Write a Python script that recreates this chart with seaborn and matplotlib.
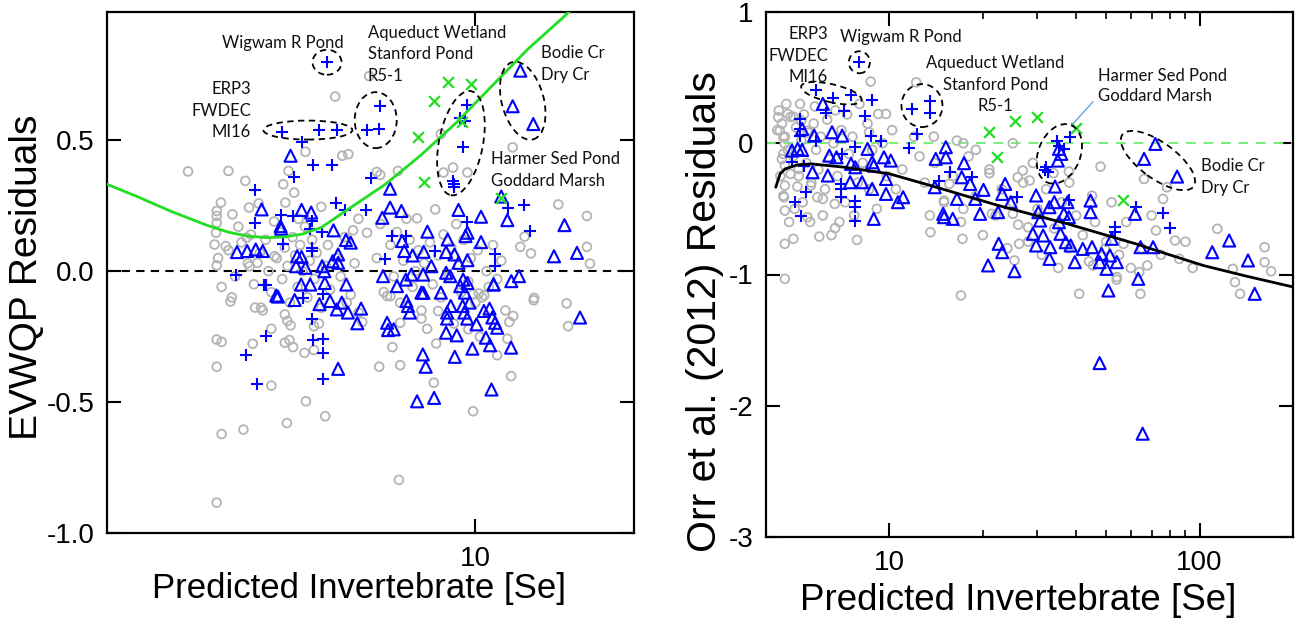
import numpy as np
import pandas as pd
import matplotlib
matplotlib.use("Agg")
import matplotlib.pyplot as plt
import matplotlib.transforms as mtransforms
from matplotlib.patches import Ellipse
from matplotlib.ticker import FixedLocator, NullLocator
import seaborn as sns

# ---------------- LEFT PANEL DATA (EVWQP residuals) ----------------
left_gray_x = [6.29, 5.42, 2.85, 3.40, 3.66, 4.76, 5.59, 5.74, 4.42, 4.32, 4.53, 7.13, 6.50, 6.60, 8.60, 11.77, 9.07, 9.66, 8.70,
               14.37, 16.28, 12.4, 12.17, 12.75, 16.28, 16.5, 12.93, 7.75, 8.39, 6.23, 5.86, 5.10, 4.36, 3.29, 3.23, 3.23, 3.23,
               3.22, 3.20, 3.46, 3.72, 3.88, 3.68, 3.36, 3.23, 3.73, 3.86, 4.16,
               3.23, 7.16, 3.30, 3.63, 4.39, 5.19, 4.77, 9.9, 4.10, 3.23, 6.57, 7.20, 8.34, 11.69, 11.0, 6.96, 8.43, 3.23, 3.30,
               3.78, 4.10, 4.35, 4.44, 4.51, 4.74, 4.94, 4.46, 4.94, 3.43, 3.82, 3.92, 4.35, 12.9, 14.9, 15.0, 11.8, 11.6, 11.5,
               6.1, 7.2, 7.9, 8.5, 9.9, 10.15, 10.4, 9.7, 6.8, 6.9, 5.7, 6.0,
               3.25, 3.4, 3.5, 3.6, 3.7, 3.8, 3.9, 4.0, 4.05, 4.1, 4.2, 4.25, 4.3, 4.35, 4.4, 4.45, 4.5, 4.55, 4.6, 4.65, 4.7,
               4.75, 4.8, 4.85, 4.9, 4.95, 5.0, 5.1, 5.2, 5.25, 5.3, 5.45, 5.55, 5.65, 5.8, 5.9, 6.0, 3.3, 3.55, 3.95, 4.15, 4.4,
               4.62, 5.05, 3.45, 3.75,
               6.5, 6.7, 6.9, 7.0, 7.1, 7.2, 7.3, 7.5, 7.6, 7.7, 7.8, 7.9, 8.0, 8.2, 8.3, 8.5, 8.6, 8.7, 8.9, 9.0, 9.1, 9.3, 9.4,
               9.5, 9.7, 9.8, 10.0, 10.1, 10.3, 10.5, 10.6, 10.8, 11.0, 11.2, 11.4, 6.6, 7.4, 8.1, 9.2, 10.2]
left_gray_y = [0.745, 0.667, 0.381, 0.383, 0.345, 0.456, 0.441, 0.447, 0.383, 0.332, 0.300, 0.383, 0.379, 0.368, 0.524, 0.473, 0.396,
               0.377, 0.377, 0.255, 0.211, 0.132, 0.093, 0.068, 0.093, 0.029, -0.102, 0.202, 0.236, 0.147, 0.156, 0.246, 0.262,
               0.262, 0.230, 0.211, 0.185, 0.147, 0.102, 0.217, 0.243, 0.259, 0.128, 0.096, 0.022, 0.019, 0.032, 0.057,
               -0.884, -0.797, -0.622, -0.605, -0.580, -0.554, -0.497, -0.535, -0.437, -0.365, -0.365, -0.359, -0.426, -0.401,
               -0.321, -0.290, -0.276, -0.261, -0.270, -0.277, -0.220, -0.273, -0.263, -0.290, -0.312, -0.301, -0.207, -0.210,
               -0.116, -0.139, -0.139, -0.165, -0.111, -0.123, -0.210, -0.171, -0.194, -0.258, -0.194, -0.197, -0.181, -0.152,
               -0.088, -0.085, -0.092, -0.222, -0.095, -0.095, -0.12, -0.158,
               0.05, 0.08, -0.02, 0.11, 0.03, -0.05, 0.07, 0.12, 0.0, -0.08, 0.05, 0.15, -0.03, 0.09, 0.02, -0.12, 0.13, 0.06,
               -0.06, 0.10, 0.0, 0.17, -0.10, 0.04, 0.12, -0.03, 0.07, -0.14, 0.02, 0.10, -0.07, 0.05, -0.02, 0.13, -0.09, 0.03,
               0.20, -0.06, 0.17, -0.15, 0.19, -0.19, 0.20, -0.20, -0.10, 0.14,
               0.05, -0.08, 0.10, -0.02, 0.15, -0.12, 0.04, 0.12, -0.06, 0.0, 0.08, -0.15, 0.03, 0.11, -0.05, 0.06, -0.10, 0.14,
               -0.02, 0.09, -0.20, 0.02, -0.08, 0.12, -0.04, 0.05, -0.12, 0.08, -0.10, 0.0, -0.06, 0.10, -0.03, 0.04, -0.15,
               0.18, 0.20, -0.22, 0.18, -0.25]

left_tri_x = [12.17, 11.77, 12.88, 4.46, 6.89, 11.2, 3.93, 4.68, 4.88, 6.89, 7.24, 6.66, 9.29, 10.25, 11.5, 14.76, 4.27, 4.28,
              5.38, 5.68, 5.80, 8.11, 9.66, 9.58, 8.86, 10.25, 7.26, 3.53, 3.69, 3.83, 3.95, 4.59, 4.68, 5.49, 7.33, 7.60, 7.98,
              8.80, 9.13, 9.29, 9.66, 14.1, 15.59, 4.57, 4.76, 5.12, 5.17, 5.36, 5.49, 6.68, 8.25, 12.1, 11.7, 10.83, 4.67, 4.86,
              5.18, 5.69, 7.10, 7.38, 7.56, 7.96, 8.80, 8.96, 9.48, 9.66, 9.36, 7.97, 4.19,
              4.22, 4.54, 5.06, 5.30, 5.46, 5.73, 5.58, 6.07, 5.97, 6.80, 6.83, 7.00, 7.40, 7.45, 7.51, 7.90, 7.95, 8.05, 7.75,
              8.35, 5.49, 8.84, 8.84, 8.98, 8.80, 9.22, 9.14, 9.46, 9.53, 9.65, 9.55, 9.75, 10.05, 9.87, 10.38, 10.64, 10.77,
              10.9, 11.0, 10.47, 10.66, 11.69, 10.73, 15.8, 10.83, 8.6]
left_tri_y = [0.766, 0.630, 0.562, 0.441, 0.315, 0.285, 0.236, 0.234, 0.224, 0.243, 0.230, 0.204, 0.234, 0.208, 0.195, 0.176, 0.172,
              0.162, 0.156, 0.119, 0.109, 0.151, 0.147, 0.134, 0.121, 0.111, 0.115, 0.073, 0.077, 0.083, 0.077, 0.057, 0.054, 0.064,
              0.077, 0.060, 0.074, 0.073, 0.064, 0.032, 0.042, 0.057, 0.070, 0.019, 0.013, 0.019, 0.0, 0.038, 0.032, -0.019, 0.019,
              -0.019, -0.038, -0.051, -0.051, -0.051, -0.045, -0.051, -0.057, -0.032, -0.013, -0.013, -0.006, -0.019, -0.032,
              -0.045, -0.057, -0.083, -0.093,
              -0.097, -0.110, -0.126, -0.114, -0.146, -0.158, -0.120, -0.143, -0.199, -0.197, -0.225, -0.222, -0.114, -0.133,
              -0.158, -0.082, -0.318, -0.365, -0.497, -0.484, -0.373, -0.158, -0.181, -0.133, -0.235, -0.245, -0.327, -0.133,
              -0.158, -0.181, -0.082, -0.120, -0.203, -0.296, -0.152, -0.143, -0.177, -0.197, -0.216, -0.254, -0.283, -0.292,
              -0.452, -0.177, -0.050, -0.082]

left_plus_x = [5.22, 4.29, 5.06, 5.47, 4.68, 6.59, 6.22, 6.57, 9.66, 9.36, 9.55, 9.48, 9.07, 9.10, 9.10, 4.92, 5.34, 4.52, 6.34,
               3.81, 5.43, 5.65, 6.19, 3.81, 4.31, 4.85, 5.12, 4.89, 4.89, 11.55, 12.36, 12.7, 9.66, 10.89, 10.89, 6.96, 7.37,
               6.75, 8.39, 3.52, 3.98, 4.50, 4.27, 4.89,
               4.0, 4.7, 5.13, 4.9, 4.0, 4.91, 5.13, 3.67, 5.13, 3.86, 5.13]
left_plus_y = [0.798, 0.533, 0.539, 0.539, 0.494, 0.630, 0.539, 0.543, 0.635, 0.584, 0.575, 0.473, 0.345, 0.332, 0.323, 0.405,
               0.405, 0.358, 0.355, 0.309, 0.262, 0.234, 0.232, 0.185, 0.102, 0.160, 0.151, 0.089, 0.077, 0.243, 0.252, 0.153,
               0.188, 0.064, 0.019, 0.134, 0.134, 0.045, 0.077, -0.013, -0.051, 0.21, 0.213, 0.19,
               -0.054, -0.101, -0.088, -0.181, -0.248, -0.261, -0.258, -0.322, -0.312, -0.429, -0.411]

left_x_x = [8.86, 9.81, 8.35, 7.79, 9.45, 7.99, 11.2]
left_x_y = [0.724, 0.715, 0.649, 0.513, 0.568, 0.341, 0.281]

left_fit_x = [2.0, 2.27, 2.65, 3.10, 3.40, 3.70, 4.03, 4.35, 4.70, 5.10, 5.77, 6.75, 7.88, 9.21, 10.77, 12.59, 14.71, 16.3]
left_fit_y = [0.332, 0.287, 0.228, 0.175, 0.149, 0.134, 0.128, 0.131, 0.142, 0.167, 0.240, 0.332, 0.443, 0.568, 0.709, 0.849, 0.971, 1.06]

# ---------------- RIGHT PANEL DATA (Orr et al. 2012 residuals) ----------------
right_gray_x = [8.7, 12.2, 9.2, 9.75, 4.38, 4.7, 4.9, 5.2, 4.43, 4.55, 4.6, 4.55, 5.44, 8.6, 13.9, 17.3, 4.6, 4.8, 4.6, 4.57, 4.6,
                5.1, 5.58, 5.86, 6.1, 6.66, 5.44, 4.6, 4.9, 5.94, 6.68, 7.86, 4.6, 17.0, 13.56, 17.2, 14.99, 15.6, 17.3, 21.0,
                25.9, 26.9, 28.3, 33.8, 37.9, 47.9, 21.4, 25.0, 28.0, 26.2, 25.3, 40.9, 45.3, 49.5, 54.1, 63.9, 67.8, 64.4, 56.8,
                66.2, 76.2, 72.3, 83.3, 86.0, 78.5, 114, 128, 130, 162, 162, 170, 135, 54,
                4.4, 4.5, 4.6, 4.7, 4.8, 4.9, 5.0, 5.1, 5.2, 5.3, 5.4, 5.5, 5.6, 5.7, 5.8, 5.9, 6.0, 6.2, 6.3, 6.4, 6.6, 6.8, 7.0,
                7.2, 7.4, 7.6, 7.9, 8.2, 8.5, 8.8, 9.1, 9.5, 4.45, 4.55, 4.75, 4.95, 5.25, 5.55, 6.1, 6.5, 4.35, 4.65, 5.15, 5.75,
                6.7, 7.3, 8.0, 4.5, 5.05, 6.9, 7.7, 8.6, 9.8, 10.5, 11.0, 10.2,
                12.5, 13, 14, 15, 16, 17, 18, 19, 20, 21, 22, 23, 24, 25, 26, 27, 28, 30, 31, 32, 34, 35, 36, 38, 40, 42, 44, 46,
                50, 55, 58, 12, 13.5, 16.5, 19, 25, 29, 38, 45, 52, 60, 65, 70, 75, 90, 95]
right_gray_y = [0.470, 0.464, 0.223, 0.223, 0.198, 0.223, 0.203, 0.173, 0.096, 0.046, -0.005, -0.081, 0.096, 0.084, 0.051, 0.0,
                -0.170, -0.234, -0.322, -0.411, -0.513, -0.195, -0.322, -0.411, -0.424, -0.462, -0.563, -0.766, -0.728, -0.711,
                -0.647, -0.736, -1.033, -1.160, -0.678, -0.728, -0.437, -0.31, -0.5, -0.228, -0.259, -0.208, -0.284, -0.228,
                -0.216, -0.178, -0.538, -0.538, -0.640, -0.766, -0.893, -1.147, -0.931, -0.805, -1.020, -0.982, -0.931, -1.147,
                -0.766, -0.272, -0.424, -0.665, -0.741, -0.881, -0.335, -0.652, -0.957, -1.058, -0.792, -0.906, -0.975, -1.147,
                -1.04,
                0.25, 0.15, 0.05, -0.05, 0.20, -0.10, 0.12, -0.25, 0.02, 0.22, -0.15, 0.08, -0.30, 0.15, -0.05, -0.20, 0.05, -0.35,
                0.18, -0.12, 0.0, -0.25, 0.10, -0.45, -0.08, 0.05, -0.30, -0.15, 0.15, -0.05, -0.50, 0.0, -0.25, -0.40, -0.60,
                -0.50, -0.45, -0.60, -0.55, -0.70, 0.10, 0.30, 0.30, 0.28, 0.25, 0.22, 0.30, -0.12, -0.33, -0.60, -0.55, -0.35,
                -0.25, -0.35, -0.20, 0.10,
                -0.10, -0.30, -0.15, -0.45, -0.25, -0.60, -0.10, -0.40, -0.70, -0.20, -0.55, -0.35, -0.80, -0.45, -0.62, -0.30,
                -0.75, -0.50, -0.85, -0.35, -0.65, -0.95, -0.45, -0.80, -0.55, -0.70, -0.90, -0.60, -0.75, -0.85, -0.60, 0.05,
                -0.55, 0.02, -0.05, 0.0, -0.15, -0.30, -0.40, -0.45, -0.95, -0.80, -0.55, -0.85, -0.75, -0.95]

right_tri_x = [72.0, 66.2, 84.6, 6.1, 5.23, 5.72, 6.53, 7.04, 4.85, 5.06, 5.23, 6.4, 6.75, 5.65, 6.33, 7.52, 7.76, 8.8, 8.9, 8.5,
               9.6, 10.1, 7.47, 8.16, 8.8, 9.75, 9.75, 10.65, 11.07, 8.9, 15.2, 14.1, 15.2, 17.4, 17.1, 18.2, 14.0, 16.5, 14.9,
               15.0, 16.0, 18.9, 20.1, 19.6, 23.6, 23.1, 22.4, 24.6, 22.5, 23.1, 20.8, 25.3, 29.7, 30.2, 30.6, 32.8, 34.0, 35.2,
               36.5, 37.5, 37.9, 44.5, 44.5, 34.2, 35.2, 35.8, 34.9, 29.0, 29.7, 31.3, 33.0, 32.8, 35.6, 37.0, 38.4, 39.6, 42.0,
               45.0, 47.6, 50.1, 48.3, 51.4, 54.1, 50.8, 52.1, 61.9, 64.5, 70.8, 63.4, 109.8, 124.5, 143.2, 150.5, 47.6, 65.5]
right_tri_y = [-0.005, -0.119, -0.254, 0.300, 0.109, 0.058, 0.084, 0.058, -0.056, -0.043, -0.051, -0.094, -0.107, -0.221, -0.246,
               -0.157, -0.183, -0.145, -0.170, -0.043, -0.107, -0.132, -0.297, -0.297, -0.348, -0.272, -0.386, -0.449, -0.411,
               -0.576, -0.030, -0.119, -0.107, -0.152, -0.259, -0.310, -0.335, -0.424, -0.538, -0.563, -0.576, -0.424, -0.355,
               -0.538, -0.310, -0.386, -0.525, -0.449, -0.766, -0.830, -0.931, -0.975, -0.398, -0.525, -0.589, -0.487, -0.449,
               -0.602, -0.538, -0.449, -0.563, -0.437, -0.525, -0.330, -0.043, -0.081, -0.132, -0.690, -0.779, -0.703, -0.792,
               -0.881, -0.690, -0.754, -0.779, -0.906, -0.805, -0.792, -0.906, -0.957, -0.843, -0.855, -0.906, -1.122, -0.728,
               -0.538, -0.792, -0.792, -1.033, -0.830, -0.741, -0.893, -1.147, -1.675, -2.213]

right_plus_x = [8.0, 5.79, 6.58, 7.52, 8.76, 7.15, 8.37, 6.25, 5.14, 13.56, 11.8, 13.56, 12.3, 11.6, 8.74, 9.38, 7.76, 5.14, 5.14,
                5.79, 4.85, 5.3, 38.2, 34.6, 35.3, 36.5, 31.7, 32.4, 31.9, 15.7, 14.4, 18.4, 7.05, 7.0, 7.0, 7.0, 7.72, 7.72,
                7.72, 5.37, 4.95, 5.17, 25.7, 37.9, 53.3, 53.3, 62.2, 76.1, 80.3]
right_plus_y = [0.622, 0.406, 0.345, 0.368, 0.332, 0.249, 0.211, 0.228, 0.185, 0.325, 0.261, 0.228, 0.071, -0.038, 0.058, 0.020,
                -0.025, 0.109, 0.058, 0.020, -0.145, -0.170, 0.051, 0.020, -0.018, -0.043, -0.203, -0.221, -0.183, -0.221,
                -0.284, -0.259, -0.081, -0.31, -0.348, -0.411, -0.437, -0.487, -0.589, -0.373, -0.449, -0.558, -0.406, -0.431,
                -0.640, -0.678, -0.487, -0.533, -0.647]

right_x_x = [21.0, 25.4, 29.9, 22.3, 39.9, 56.5]
right_x_y = [0.084, 0.168, 0.198, -0.102, 0.114, -0.431]

right_fit_x = [4.3, 4.44, 4.61, 5.04, 5.58, 7.19, 10.0, 13.56, 22.5, 37.5, 62.2, 80.0, 103.0, 140.0, 200.0]
right_fit_y = [-0.335, -0.234, -0.195, -0.165, -0.157, -0.183, -0.233, -0.322, -0.475, -0.614, -0.766, -0.850, -0.932, -1.010, -1.095]

# annotation labels
left_labels = [("Wigwam R Pond", 0.334, 0.940, "center"),
               ("Aqueduct Wetland", 0.495, 0.960, "left"), ("Stanford Pond", 0.495, 0.919, "left"), ("R5-1", 0.495, 0.877, "left"),
               ("ERP3", 0.273, 0.852, "right"), ("FWDEC", 0.273, 0.810, "right"), ("MI16", 0.273, 0.770, "right"),
               ("Bodie Cr", 0.824, 0.921, "left"), ("Dry Cr", 0.824, 0.879, "left"),
               ("Harmer Sed Pond", 0.729, 0.718, "left"), ("Goddard Marsh", 0.729, 0.676, "left")]
right_labels = [("ERP3", 0.118, 0.958, "right"), ("FWDEC", 0.118, 0.916, "right"), ("MI16", 0.118, 0.876, "right"),
                ("Wigwam R Pond", 0.256, 0.952, "center"),
                ("Aqueduct Wetland", 0.435, 0.903, "center"), ("Stanford Pond", 0.435, 0.861, "center"), ("R5-1", 0.435, 0.821, "center"),
                ("Harmer Sed Pond", 0.630, 0.878, "left"), ("Goddard Marsh", 0.630, 0.840, "left"),
                ("Bodie Cr", 0.825, 0.707, "left"), ("Dry Cr", 0.825, 0.665, "left")]
# ellipses: (x, y, width_px, height_px, angle)
left_ellipses = [(5.23, 0.798, 29, 25, 0), (4.81, 0.539, 89, 19, 0), (6.47, 0.577, 42, 56, 0),
                 (9.39, 0.489, 44, 106, -11), (12.3, 0.651, 42, 80, 15)]
right_ellipses = [(8.0, 0.617, 21, 22, 0), (6.5, 0.381, 62, 18, -13), (12.73, 0.287, 41, 43, 0),
                  (35.3, -0.081, 42, 62, -22), (73.4, -0.132, 88, 36, -36)]

# ---------------- STYLE ----------------
sns.set_theme(style="ticks")
plt.rcParams['font.family'] = ['Liberation Sans', 'DejaVu Sans']
plt.rcParams['axes.unicode_minus'] = False
plt.rcParams['text.color'] = 'black'
plt.rcParams['axes.labelcolor'] = 'black'
plt.rcParams['xtick.color'] = 'black'
plt.rcParams['ytick.color'] = 'black'

GRAY = "#b4b4b4"
BLUE = "#0000ff"
GREEN = "#22dd22"

fig = plt.figure(figsize=(12.97, 6.24), dpi=100)
axL = fig.add_axes([107 / 1297, 1 - 533 / 624, 527 / 1297, 521 / 624])
axR = fig.add_axes([766 / 1297, 1 - 537 / 624, 527 / 1297, 525 / 624])


def draw_points(ax, gx, gy, tx, ty, px, py, xx, xy):
    sns.scatterplot(x=gx, y=gy, ax=ax, marker='o', s=40, facecolor='none', edgecolor=GRAY,
                    linewidth=1.3, legend=False, zorder=2)
    sns.scatterplot(x=tx, y=ty, ax=ax, marker='^', s=75, facecolor='none', edgecolor=BLUE,
                    linewidth=1.5, legend=False, zorder=3)
    sns.scatterplot(x=px, y=py, ax=ax, marker='+', s=80, color=BLUE,
                    linewidth=1.5, legend=False, zorder=4)
    sns.scatterplot(x=xx, y=xy, ax=ax, marker='x', s=60, color=GREEN,
                    linewidth=1.6, legend=False, zorder=4)


def style_axes(ax):
    for sp in ax.spines.values():
        sp.set_visible(True)
        sp.set_linewidth(1.6)
        sp.set_color("black")
    ax.tick_params(axis='both', which='major', direction='in', top=True, right=True,
                   length=10, width=1.5, labelsize=20, pad=9, colors='black', labelcolor='black')
    ax.tick_params(axis='both', which='minor', direction='in', top=True, right=True,
                   length=5, width=1.2, colors='black')
    ax.set_facecolor("white")


def add_ellipses(ax, ells):
    for (cx, cy, w, h, a) in ells:
        tr = fig.dpi_scale_trans + mtransforms.ScaledTranslation(cx, cy, ax.transData)
        e = Ellipse((0, 0), w / 100, h / 100, angle=a, transform=tr, fill=False,
                    edgecolor='black', linestyle=(0, (3.5, 2.5)), linewidth=1.3, zorder=6, clip_on=False)
        ax.add_patch(e)


def add_labels(ax, labs):
    for (t, fx, fy, ha) in labs:
        ax.text(fx, fy, t, transform=ax.transAxes, ha=ha, va='center', fontsize=12,
                family=['Lato', 'DejaVu Sans'], color='#111111', zorder=7)


# ---- left panel ----
draw_points(axL, left_gray_x, left_gray_y, left_tri_x, left_tri_y, left_plus_x, left_plus_y, left_x_x, left_x_y)
axL.axhline(0, color='black', linestyle=(0, (4, 3)), linewidth=1.5, zorder=1)
sns.lineplot(x=left_fit_x, y=left_fit_y, ax=axL, color=GREEN, linewidth=2, sort=False, estimator=None, legend=False, zorder=5)
axL.set_xscale('log')
axL.set_xlim(2, 20)
axL.set_ylim(-1.0, 0.99)
axL.xaxis.set_major_locator(FixedLocator([10]))
axL.xaxis.set_minor_locator(NullLocator())
axL.set_xticklabels(['10'])
axL.set_yticks([-1.0, -0.5, 0.0, 0.5])
axL.set_yticklabels(['-1.0', '-0.5', '0.0', '0.5'])
style_axes(axL)
axL.set_xlabel("Predicted Invertebrate [Se]", fontsize=25, color='black')
axL.xaxis.set_label_coords(0.478, -0.074)
axL.set_ylabel("EVWQP Residuals", fontsize=28, color='black')
axL.yaxis.set_label_coords(-0.118, 0.49)
add_ellipses(axL, left_ellipses)
add_labels(axL, left_labels)

# ---- right panel ----
draw_points(axR, right_gray_x, right_gray_y, right_tri_x, right_tri_y, right_plus_x, right_plus_y, right_x_x, right_x_y)
axR.axhline(0, color='#77ee77', linestyle=(0, (5, 4)), linewidth=1.4, zorder=1)
sns.lineplot(x=right_fit_x, y=right_fit_y, ax=axR, color='black', linewidth=2, sort=False, estimator=None, legend=False, zorder=5)
axR.set_xscale('log')
axR.set_xlim(4, 200)
axR.set_ylim(-3, 1)
axR.xaxis.set_major_locator(FixedLocator([10, 100]))
axR.xaxis.set_minor_locator(FixedLocator([20, 30, 40, 50, 60, 70, 80, 90]))
axR.set_xticklabels(['10', '100'])
axR.set_yticks([-3, -2, -1, 0, 1])
axR.set_yticklabels(['-3', '-2', '-1', '0', '1'])
style_axes(axR)
axR.set_xlabel("Predicted Invertebrate [Se]", fontsize=26.5, color='black')
axR.xaxis.set_label_coords(0.478, -0.088)
axR.set_ylabel("Orr et al. (2012) Residuals", fontsize=29.5, color='black')
axR.yaxis.set_label_coords(-0.08, 0.43)
add_ellipses(axR, right_ellipses)
add_labels(axR, right_labels)
axR.plot([0.6205, 0.5825], [0.829, 0.787], transform=axR.transAxes, color='#5b9bd5', linewidth=0.9, zorder=7)

fig.savefig("out.png", dpi=100)
